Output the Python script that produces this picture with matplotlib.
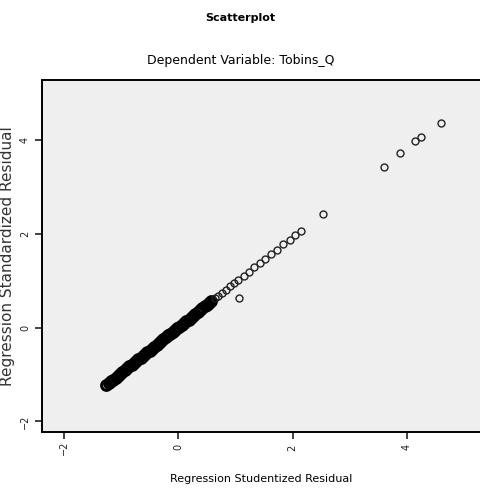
import numpy as np
import matplotlib.pyplot as plt

# studentized (x) vs standardized (y) residuals
dense_x = [-1.26, -1.22, -1.18, -1.14, -1.10, -1.06, -1.02, -0.98, -0.94, -0.90,
           -0.86, -0.82, -0.78, -0.74, -0.70, -0.66, -0.62, -0.58, -0.54, -0.50,
           -0.46, -0.42, -0.38, -0.34, -0.30, -0.26, -0.22, -0.18, -0.14, -0.10,
           -0.06, -0.02, 0.02, 0.06, 0.10, 0.14, 0.18, 0.22, 0.26, 0.30,
           0.34, 0.38, 0.42, 0.46, 0.50, 0.54, 0.58]
dense_y = [-1.22, -1.18, -1.14, -1.11, -1.07, -1.03, -0.99, -0.95, -0.91, -0.87,
           -0.83, -0.80, -0.76, -0.72, -0.68, -0.64, -0.60, -0.56, -0.52, -0.49,
           -0.45, -0.41, -0.37, -0.33, -0.29, -0.25, -0.21, -0.17, -0.14, -0.10,
           -0.06, -0.02, 0.02, 0.06, 0.10, 0.14, 0.17, 0.21, 0.25, 0.29,
           0.33, 0.37, 0.41, 0.45, 0.49, 0.52, 0.56]

sparse_x = [0.64, 0.70, 0.77, 0.84, 0.91, 0.98, 1.05, 1.15, 1.24, 1.33, 1.43,
            1.52, 1.62, 1.72, 1.84, 1.95, 2.05, 2.14,
            1.07, 2.54, 3.60, 3.88, 4.15, 4.25, 4.60]
sparse_y = [0.62, 0.68, 0.74, 0.81, 0.88, 0.94, 1.01, 1.10, 1.19, 1.28, 1.37,
            1.46, 1.56, 1.65, 1.77, 1.87, 1.97, 2.06,
            0.64, 2.43, 3.43, 3.72, 3.97, 4.06, 4.36]

fig = plt.figure(figsize=(4.81, 4.99), dpi=100)
ax = fig.add_axes([0.087, 0.134, 0.913, 0.706])
ax.set_facecolor('#efefef')

ax.plot(dense_x, dense_y, 'o', ms=7, mfc='none', mec='black', mew=2.2)
ax.plot(sparse_x, sparse_y, 'o', ms=5, mfc='none', mec='#222222', mew=1.0)

ax.set_xlim(-2.39, 5.3)
ax.set_ylim(-2.23, 5.28)
ax.set_xticks([-2, 0, 2, 4])
ax.set_yticks([-2, 0, 2, 4])
ax.tick_params(direction='out', length=5, width=1.2, labelsize=7, colors='#222222')
ax.tick_params(axis='x', pad=6)
for lbl in ax.get_xticklabels() + ax.get_yticklabels():
    lbl.set_rotation(90)
    lbl.set_va('center')

for side in ['left', 'bottom', 'top']:
    ax.spines[side].set_linewidth(1.4)
ax.spines['right'].set_visible(False)

fig.text(0.5, 0.964, 'Scatterplot', ha='center', va='center', fontsize=8, fontweight='bold')
fig.text(0.5, 0.878, 'Dependent Variable: Tobins_Q', ha='center', va='center', fontsize=9)
ax.set_xlabel('Regression Studentized Residual', fontsize=8, labelpad=14)
ax.set_ylabel('Regression Standardized Residual', fontsize=11, color='#333333')
ax.yaxis.set_label_coords(-0.062, 0.5)

fig.savefig('out.png', dpi=100)
